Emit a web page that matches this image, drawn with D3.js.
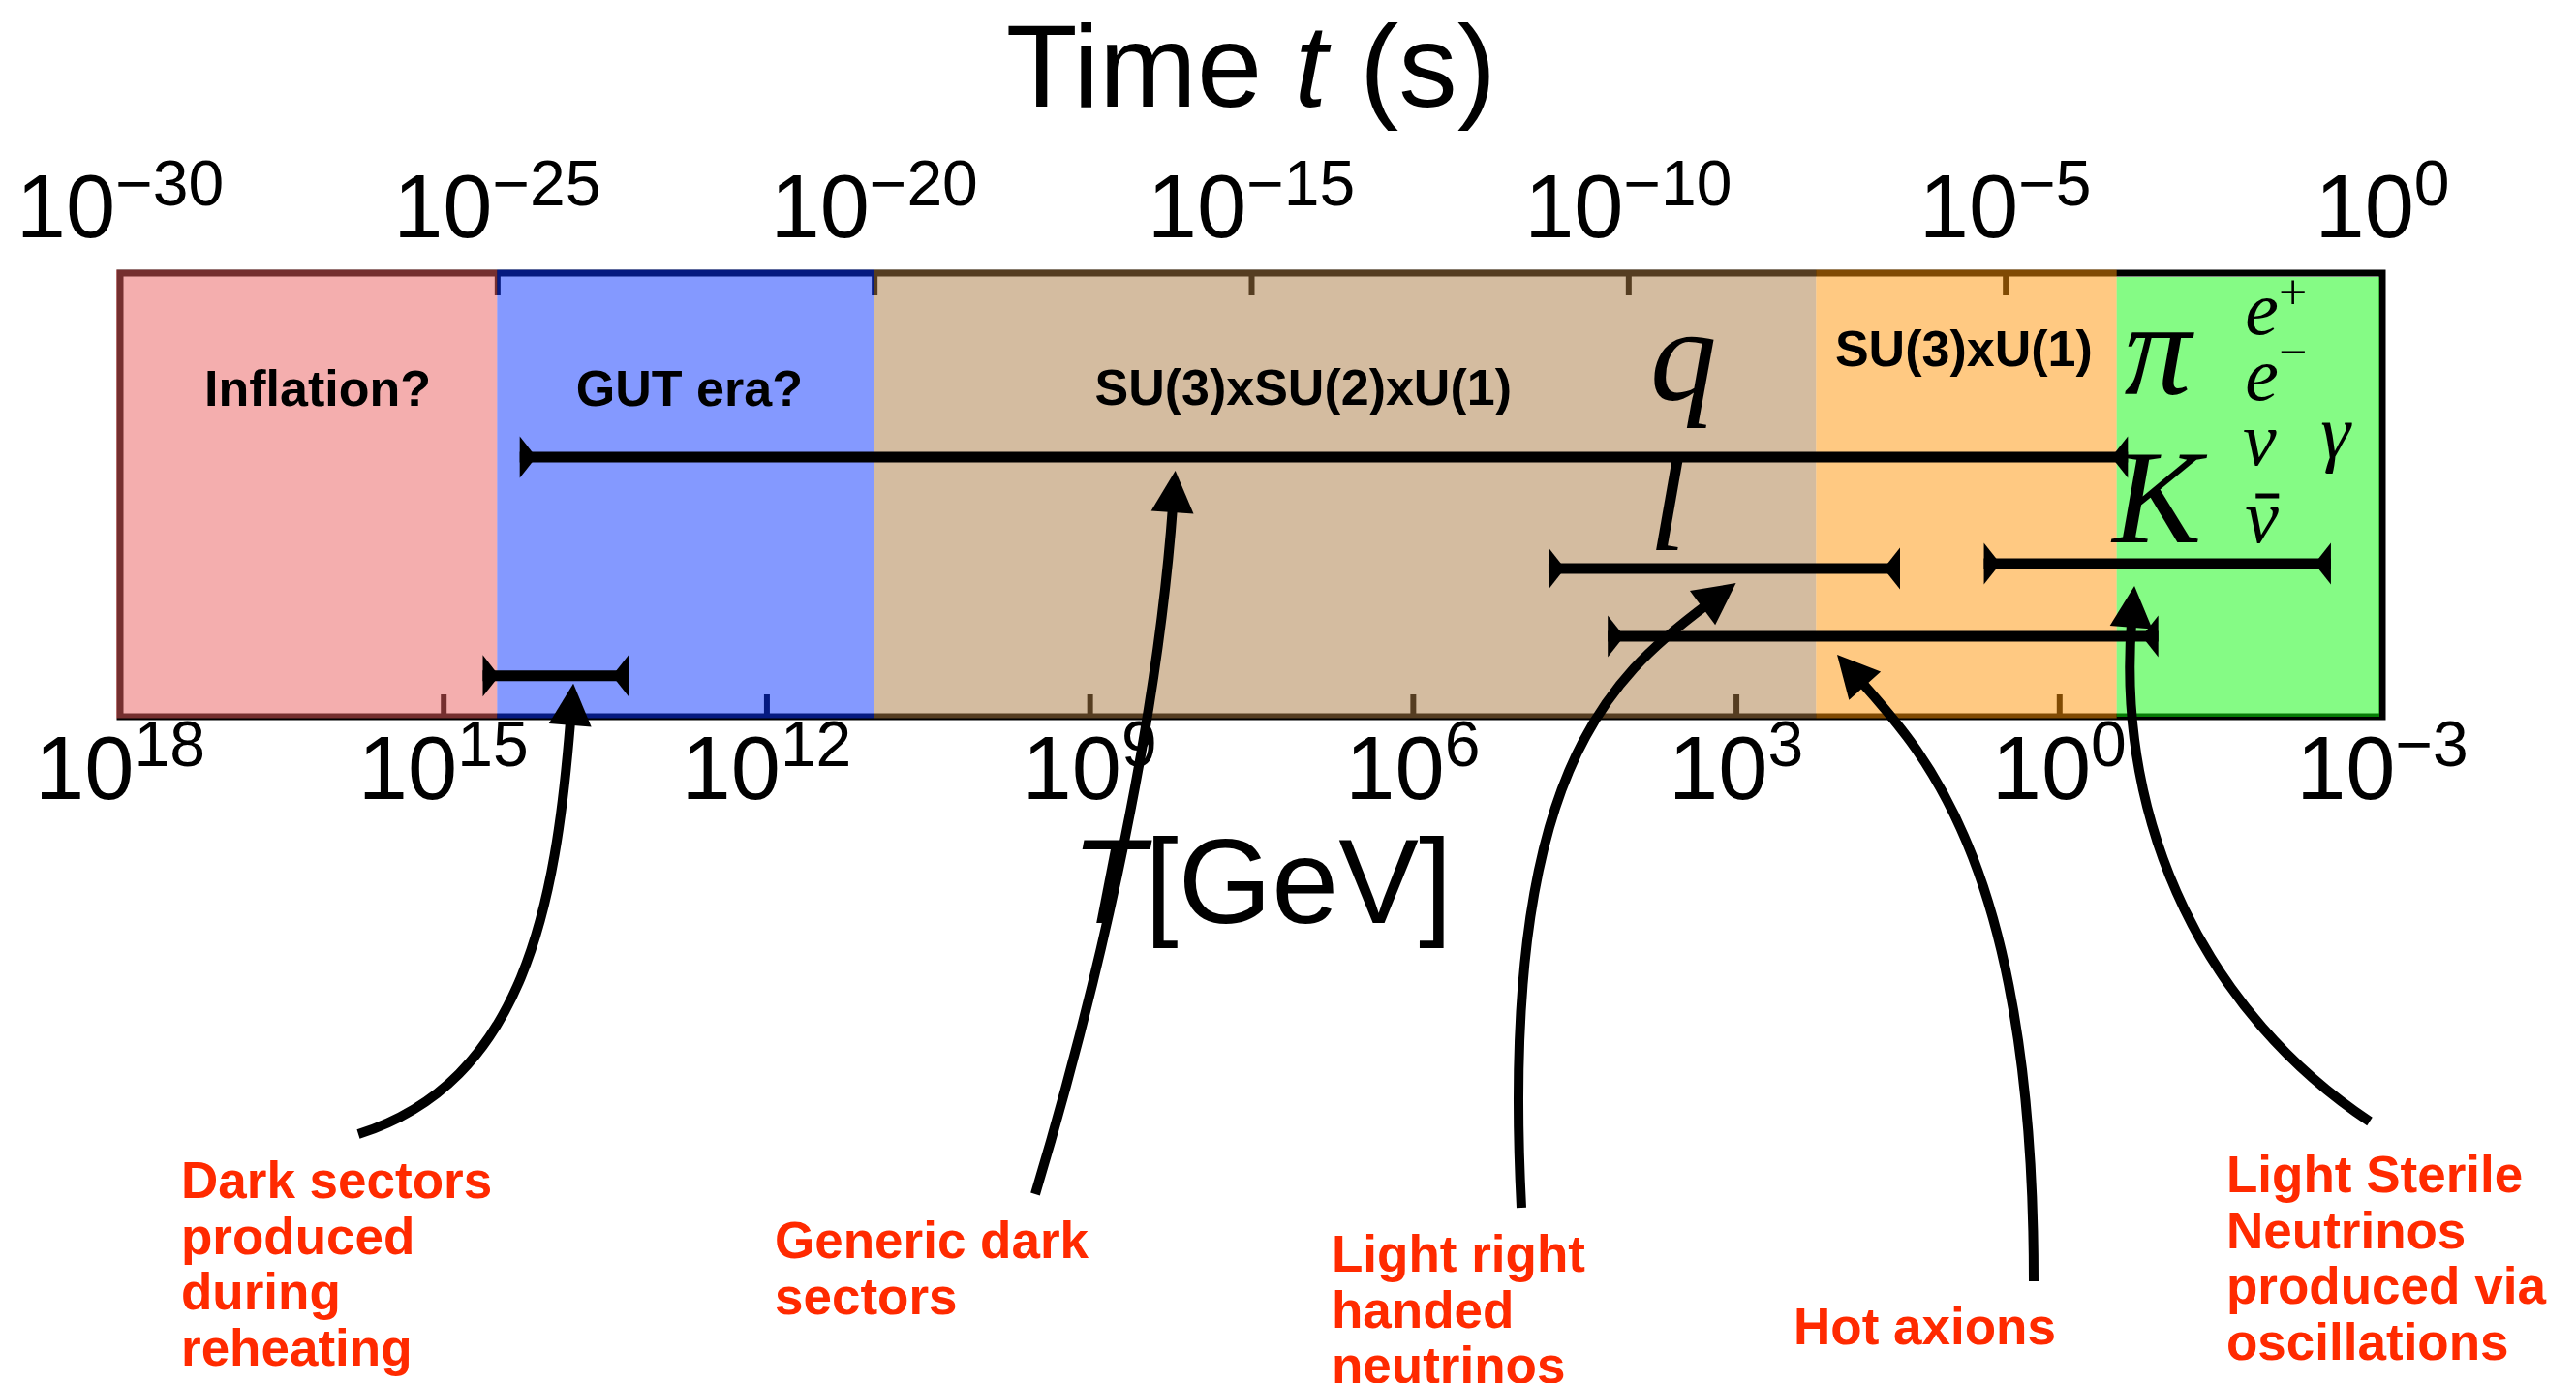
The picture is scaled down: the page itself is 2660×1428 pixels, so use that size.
<!DOCTYPE html>
<html>
<head>
<meta charset="utf-8">
<script src="https://cdn.jsdelivr.net/npm/d3@7"></script>
<style>
  html, body { margin: 0; padding: 0; background: #ffffff; }
  svg { display: block; }
</style>
</head>
<body>
<svg id="chart" width="2660" height="1428"></svg>
<script>
// ---- Eras of the early universe (bounded in time, seconds) ----
const eraNames   = ["Inflation?", "GUT era?", "SU(3)xSU(2)xU(1)", "SU(3)xU(1)", ""];
const eraStart   = [1e-30, 1e-25, 1e-20, 3.1e-8, 3.0e-4];
const eraEnd     = [1e-25, 1e-20, 3.1e-8, 3.0e-4, 1];
const eraColors  = ["#e95d5d", "#0933ff", "#a97941", "#ff9305", "#0bf70b"];
const eraLabelExp = [-27.38, -22.45, -14.31, -5.55];   // log10 t of label centre
const eraLabelRow = [0.701, 0.701, 0.703, 0.790];

// ---- Axis ticks ----
const timeTicks   = [1e-30, 1e-25, 1e-20, 1e-15, 1e-10, 1e-5, 1];
const timeTickExp = ["\u221230", "\u221225", "\u221220", "\u221215", "\u221210", "\u22125", "0"];
const tempTicks   = [1e18, 1e15, 1e12, 1e9, 1e6, 1e3, 1, 1e-3];
const tempTickExp = ["18", "15", "12", "9", "6", "3", "0", "\u22123"];

// ---- Production windows (temperature range, GeV) ----
const populations = [
  ["Dark sectors", "produced", "during", "reheating"],
  ["Generic dark", "sectors"],
  ["Light right", "handed", "neutrinos"],
  ["Hot axions"],
  ["Light Sterile", "Neutrinos", "produced via", "oscillations"]
];
const popTHigh  = [4.3e14, 1.95e14, 5.5e4, 1.55e4, 5.0];
const popTLow   = [1.9e13, 0.23, 30, 0.12, 3.0e-3];
const popRow    = [0.092, 0.585, 0.334, 0.181, 0.345];
const popArrowT = [6.2e13, 1.6e8, 1.0e3, 1.15e2, 0.20];

// ---- Particle content shown in the late eras ----
const particleText = ["q", "l", "\u03c0", "K"];
const particleExp  = [-9.27, -9.48, -2.98, -2.99];
const particleRow  = [0.714, 0.376, 0.727, 0.393];

// ---- Layout ----
const X0 = 124, X1 = 2460, Y0 = 282, Y1 = 740;
const SANS = "'Liberation Sans', Arial, Helvetica, sans-serif";
const SERIF = "'Liberation Serif', 'Times New Roman', serif";
const RED = "#ff2a00";

const svg = d3.select("#chart");

const xTime = d3.scaleLog().domain([1e-30, 1]).range([X0, X1]);
const xTemp = d3.scaleLog().domain([1e18, 1e-3]).range([X0, X1]);
const yRow  = d3.scaleLinear().domain([0, 1]).range([Y1, Y0]);

// ---- Frame and ticks (drawn first, tinted by the era bands on top) ----
svg.append("rect")
  .attr("x", X0).attr("y", Y0).attr("width", X1 - X0).attr("height", Y1 - Y0)
  .attr("fill", "#ffffff").attr("stroke", "#000").attr("stroke-width", 7);

svg.append("g")
  .attr("transform", `translate(0,${Y0})`)
  .call(d3.axisTop(xTime).tickValues(timeTicks.slice(1, -1))
        .tickSizeInner(-23).tickSizeOuter(0).tickFormat(""))
  .call(g => {
    g.select(".domain").remove();
    g.selectAll(".tick line").attr("stroke", "#000").attr("stroke-width", 6);
  });

svg.append("g")
  .attr("transform", `translate(0,${Y1})`)
  .call(d3.axisBottom(xTemp).tickValues(tempTicks.slice(1, -1))
        .tickSizeInner(-23).tickSizeOuter(0).tickFormat(""))
  .call(g => {
    g.select(".domain").remove();
    g.selectAll(".tick line").attr("stroke", "#000").attr("stroke-width", 6);
  });

// ---- Era bands (translucent) ----
svg.append("g").selectAll("rect")
  .data(eraStart)
  .join("rect")
  .attr("x", (d, i) => i === 0 ? xTime(d) - 4 : xTime(d))
  .attr("y", (d, i) => i === 4 ? Y0 + 4 : Y0 - 3.5)
  .attr("width", (d, i) => (i === 4 ? xTime(eraEnd[i]) - 3 : xTime(eraEnd[i])) - (i === 0 ? xTime(d) - 4 : xTime(d)))
  .attr("height", (d, i) => i === 4 ? (Y1 - Y0) - 4 : (Y1 - Y0) + 5)
  .attr("fill", (d, i) => eraColors[i])
  .attr("fill-opacity", 0.5);

// ---- Era names ----
svg.append("g").selectAll("text")
  .data(eraLabelExp)
  .join("text")
  .attr("x", d => xTime(Math.pow(10, d)))
  .attr("y", (d, i) => yRow(eraLabelRow[i]))
  .attr("text-anchor", "middle")
  .attr("font-family", SANS)
  .attr("font-weight", "bold")
  .attr("font-size", 52)
  .attr("fill", "#000")
  .text((d, i) => eraNames[i]);

// ---- Particle symbols ----
const sym = svg.append("g").attr("font-family", SERIF).attr("font-style", "italic").attr("fill", "#000");
sym.selectAll("text.big")
  .data(particleExp)
  .join("text")
  .attr("class", "big")
  .attr("x", d => xTime(Math.pow(10, d)))
  .attr("y", (d, i) => yRow(particleRow[i]))
  .attr("text-anchor", "middle")
  .attr("font-size", 138)
  .text((d, i) => particleText[i]);

const small = (exp, row, base, sup, supDy) => {
  const t = sym.append("text")
    .attr("x", xTime(Math.pow(10, exp)))
    .attr("y", yRow(row))
    .attr("font-size", 78);
  t.append("tspan").text(base);
  if (sup) t.append("tspan").attr("font-size", 52).attr("font-style", "normal").attr("dy", supDy).text(sup);
  return t;
};
small(-1.82, 0.862, "e", "+", -26);
small(-1.82, 0.714, "e", "\u2212", -32);
small(-1.85, 0.568, "\u03bd");
small(-0.82, 0.585, "\u03b3");
small(-1.82, 0.393, "\u03bd");
// bar over the antineutrino
sym.append("line")
  .attr("x1", xTime(Math.pow(10, -1.82)) + 11).attr("x2", xTime(Math.pow(10, -1.82)) + 35)
  .attr("y1", yRow(0.393) - 48).attr("y2", yRow(0.393) - 48)
  .attr("stroke", "#000").attr("stroke-width", 5);

// ---- Production windows: bars with wedge end caps ----
const capH = 21.5, capW = 17;
const bars = svg.append("g");
popTHigh.forEach((hi, i) => {
  const xa = xTemp(hi), xb = xTemp(popTLow[i]), y = yRow(popRow[i]);
  bars.append("line")
    .attr("x1", xa).attr("x2", xb).attr("y1", y).attr("y2", y)
    .attr("stroke", "#000").attr("stroke-width", 11);
  bars.append("path")
    .attr("d", `M${xa},${y - capH}L${xa + capW},${y}L${xa},${y + capH}Z`)
    .attr("fill", "#000");
  bars.append("path")
    .attr("d", `M${xb},${y - capH}L${xb - capW},${y}L${xb},${y + capH}Z`)
    .attr("fill", "#000");
});

// ---- Tick labels ----
const tickLabels = (ticks, exps, scale, y, supDy) => {
  svg.append("g").selectAll("text")
    .data(ticks)
    .join("text")
    .attr("x", d => scale(d))
    .attr("y", y)
    .attr("text-anchor", "middle")
    .attr("font-family", SANS)
    .attr("font-size", 92)
    .attr("fill", "#000")
    .each(function (d, i) {
      const t = d3.select(this);
      t.append("tspan").text("10");
      t.append("tspan").attr("font-size", 66).attr("dy", supDy).text(exps[i]);
    });
};
tickLabels(timeTicks, timeTickExp, xTime, 245, -33);
tickLabels(tempTicks, tempTickExp, xTemp, 825, -34);

// ---- Axis titles ----
const title = svg.append("text")
  .attr("x", (X0 + X1) / 2).attr("y", 110)
  .attr("text-anchor", "middle")
  .attr("font-family", SANS).attr("font-size", 121).attr("fill", "#000");
title.append("tspan").text("Time ");
title.append("tspan").attr("font-style", "italic").text("t");
title.append("tspan").text(" (s)");

const xlab = svg.append("text")
  .attr("x", 1303).attr("y", 953)
  .attr("text-anchor", "middle")
  .attr("font-family", SANS).attr("font-size", 124).attr("fill", "#000");
xlab.append("tspan").attr("font-style", "italic").text("T");
xlab.append("tspan").text("[GeV]");

// ---- Annotations: red captions with curved arrows to their windows ----
const notes = [
  { x: 187,  y: 1237, tail: [370, 1171],  c1: [171, -54],  c2: [-18, 230], gap: 8 },
  { x: 800,  y: 1299, tail: [1069, 1233], c1: [72, -240],  c2: [-18, 250], gap: 14 },
  { x: 1375, y: 1313, tail: [1571, 1247], c1: [-23, -447], c2: [-132, 98], gap: 15 },
  { x: 1852, y: 1388, tail: [2100, 1323], c1: [0, -423],   c2: [93, 104],  gap: 19 },
  { x: 2299, y: 1231, tail: [2447, 1158], c1: [-166, -110], c2: [-20, 250], gap: 23 }
];

const ann = svg.append("g");
populations.forEach((lines, i) => {
  const n = notes[i];
  const t = ann.append("text")
    .attr("font-family", SANS).attr("font-weight", "bold")
    .attr("font-size", 53).attr("fill", RED);
  lines.forEach((s, j) => {
    t.append("tspan").attr("x", n.x).attr("y", n.y + j * 57.5).text(s);
  });

  const tip = [xTemp(popArrowT[i]), yRow(popRow[i]) + n.gap];
  const p0 = n.tail;
  const c1 = [p0[0] + n.c1[0], p0[1] + n.c1[1]];
  const c2 = [tip[0] + n.c2[0], tip[1] + n.c2[1]];
  const dx = tip[0] - c2[0], dy = tip[1] - c2[1];
  const len = Math.hypot(dx, dy);
  const ux = dx / len, uy = dy / len;
  const headL = 43, headW = 22;
  const end = [tip[0] - ux * 35, tip[1] - uy * 35];
  const path = d3.path();
  path.moveTo(p0[0], p0[1]);
  path.bezierCurveTo(c1[0], c1[1], c2[0], c2[1], end[0], end[1]);
  ann.append("path").attr("d", path.toString())
    .attr("fill", "none").attr("stroke", "#000").attr("stroke-width", 10);
  const bx = tip[0] - ux * headL, by = tip[1] - uy * headL;
  ann.append("path")
    .attr("d", `M${tip[0]},${tip[1]}L${bx - uy * headW},${by + ux * headW}L${bx + uy * headW},${by - ux * headW}Z`)
    .attr("fill", "#000");
});
</script>
</body>
</html>
